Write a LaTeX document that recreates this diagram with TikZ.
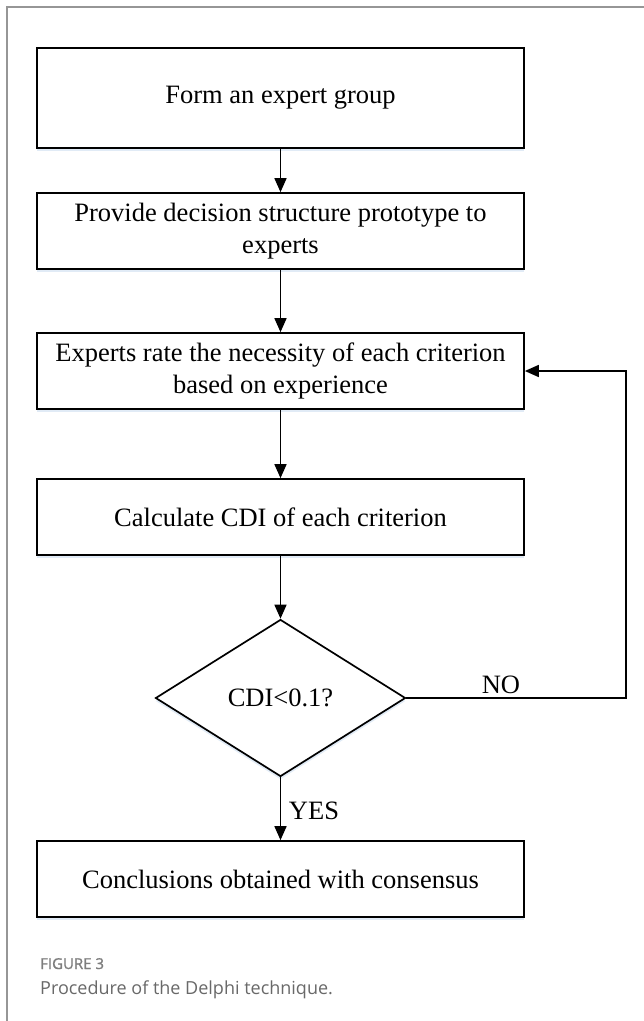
\documentclass[tikz,border=0pt]{standalone}
\usepackage{fontspec}
\setmainfont{Liberation Serif}
\newfontfamily\capfont{Open Sans}
\newfontfamily\capfontb[FakeBold=1.2]{Open Sans}
\usetikzlibrary{arrows.meta,shapes.geometric,shadows}
\definecolor{framegray}{RGB}{150,150,150}
\definecolor{capgray}{RGB}{125,125,125}
\definecolor{captext}{RGB}{105,105,105}
\definecolor{shadowblue}{RGB}{205,222,240}
\tikzset{
  boxstyle/.style={draw=black, line width=1.7pt, fill=white, minimum width=487pt,
    inner sep=0pt, align=center, font=\fontsize{26.5}{31.5}\selectfont,
    drop shadow={shadow xshift=0pt, shadow yshift=-3pt, fill=shadowblue, opacity=0.6}},
  decision/.style={draw=black, line width=1.7pt, fill=white, shape=diamond,
    minimum width=250pt, minimum height=157pt, inner sep=0pt,
    font=\fontsize{26.5}{30}\selectfont,
    drop shadow={shadow xshift=0pt, shadow yshift=-3pt, fill=shadowblue, opacity=0.6}},
  flow/.style={line width=1.7pt, -{Triangle[length=14pt,width=12pt]}},
  lbl/.style={font=\fontsize{26.5}{30}\selectfont, inner sep=0pt, anchor=base},
}
\begin{document}
\begin{tikzpicture}[x=1pt,y=-1pt]
\useasboundingbox (0,0) rectangle (644,1021);
\fill[white] (0,0) rectangle (644,1021);
% partial frame
\draw[framegray, line width=1.6pt] (7,1021) -- (7,7) -- (644,7);

\node[boxstyle, minimum height=100pt] (b1) at (280.5,98) {Form an expert group};
\node[boxstyle, minimum height=76pt] (b2) at (280.5,231) {Provide decision structure prototype to\\experts};
\node[boxstyle, minimum height=76pt] (b3) at (280.5,371) {Experts rate the necessity of each criterion\\based on experience};
\node[boxstyle, minimum height=76pt] (b4) at (280.5,517) {Calculate CDI of each criterion};
\node[decision] (d) at (280.5,698) {CDI<0.1?};
\node[boxstyle, minimum height=76pt] (b5) at (280.5,879) {Conclusions obtained with consensus};

\coordinate (cR) at (626,698);
\coordinate (cT) at (626,371);

\draw[flow] (b1) -- (b2);
\draw[flow] (b2) -- (b3);
\draw[flow] (b3) -- (b4);
\draw[flow] (b4) -- (d);
\draw[flow] (d) -- (b5);
\draw[flow] (d.east) -- (cR) -- (cT) -- (b3.east);

\node[lbl] (no) at (501,693) {NO};
\node[lbl] (yes) at (314,819) {YES};

\node[anchor=base west, inner sep=0pt, text=capgray, font=\capfontb\fontsize{15}{17}\selectfont] (fig) at (40,969) {FIGURE 3};
\node[anchor=base west, inner sep=0pt, text=captext, font=\capfont\fontsize{18}{21}\selectfont] (cap) at (40,994) {Procedure of the Delphi technique.};
\end{tikzpicture}
\end{document}
